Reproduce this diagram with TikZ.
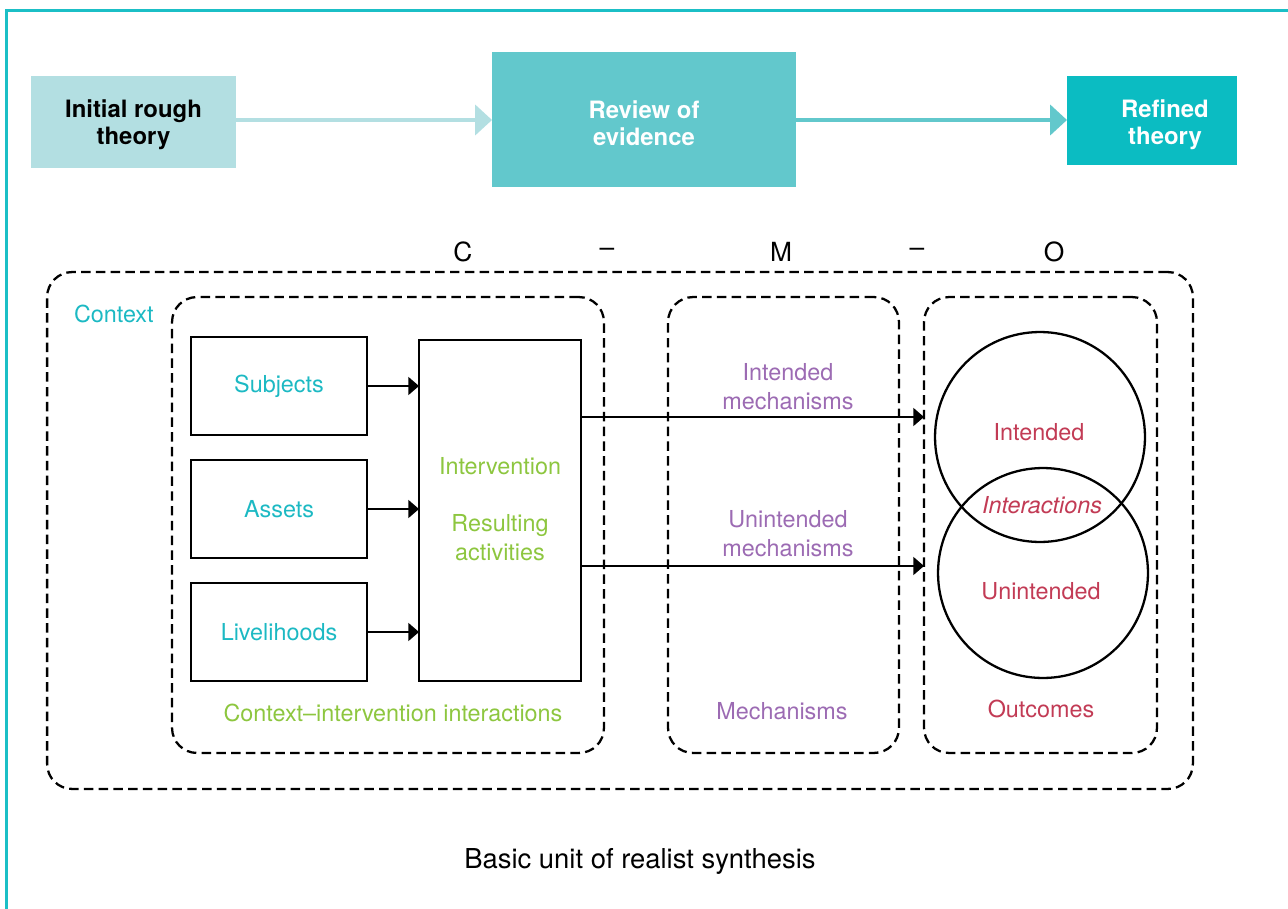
\documentclass[tikz,border=0pt]{standalone}
\usepackage{fontspec}
\setmainfont{TeX Gyre Heros}
\usetikzlibrary{arrows.meta}
\definecolor{frameteal}{HTML}{1BBFC6}
\definecolor{paleteal}{HTML}{B3DFE2}
\definecolor{midteal}{HTML}{62C8CC}
\definecolor{deepteal}{HTML}{0BBCC2}
\definecolor{tealtxt}{HTML}{1CB9C3}
\definecolor{greentxt}{HTML}{8DC63F}
\definecolor{purpletxt}{HTML}{9C6BB3}
\definecolor{redtxt}{HTML}{C23B55}
\begin{document}
\begin{tikzpicture}[x=0.02cm,y=-0.02cm,
  every node/.style={inner sep=0pt,outer sep=0pt},
  body/.style={font=\fontsize{13.3}{16.4}\selectfont,align=center},
  stagetext/.style={font=\fontsize{13.6}{15.5}\selectfont\bfseries,align=center},
  stagearrow/.style={line width=2.8pt,-{Triangle[length=9.6pt,width=17pt]}},
  solidbox/.style={draw,line width=1.3pt,body},
  dashbox/.style={draw,line width=1.3pt,dash pattern=on 5.4pt off 3pt,rounded corners=0.5cm},
  blackarrow/.style={line width=1.3pt,-{Triangle[length=6pt,width=10pt]}},
  ring/.style={draw,circle,line width=1.3pt,minimum size=4.2cm}
]
\useasboundingbox (0,0) rectangle (1288,909);

% frame
\draw[frameteal,line width=1.6pt] (6.3,909) -- (6.3,10.3) -- (1288,10.3);

% theory stages
\node[fill=paleteal,minimum width=4.1cm,minimum height=1.84cm] (initial) at (133.5,122) {};
\node[fill=midteal,minimum width=6.08cm,minimum height=2.7cm] (review) at (644,119.5) {};
\node[fill=deepteal,minimum width=3.4cm,minimum height=1.78cm] (refined) at (1152,120.5) {};
\node[stagetext,text=black] (initialtxt) at (133.5,125) {Initial rough\\theory};
\node[stagetext,text=white] (reviewtxt) at (644,123) {Review of\\evidence};
\node[stagetext,text=white] (refinedtxt) at (1165,124.5) {Refined\\theory};
\draw[stagearrow,paleteal] (initial.east |- 0,120) -- (review.west |- 0,120);
\draw[stagearrow,midteal] (review.east |- 0,120) -- (refined.west |- 0,120);

% C - M - O heading
\begin{scope}[every node/.style={font=\fontsize{15}{17}\selectfont}]
\node (hc) at (463,252) {C};
\node (hd1) at (607,252) {–};
\node (hm) at (781,252) {M};
\node (hd2) at (917,252) {–};
\node (ho) at (1054,252) {O};
\end{scope}

% dashed groupings
\node[dashbox,minimum width=22.92cm,minimum height=10.34cm] (context) at (620,530.5) {};
\node[dashbox,minimum width=8.64cm,minimum height=9.12cm] (cibox) at (388,525) {};
\node[dashbox,minimum width=4.62cm,minimum height=9.12cm] (mechbox) at (783.5,525) {};
\node[dashbox,minimum width=4.66cm,minimum height=9.12cm] (outbox) at (1040.5,525) {};
\node[body,text=tealtxt,anchor=west] (ctxlabel) at (74,314) {Context};

% context elements
\node[solidbox,text=tealtxt,minimum width=3.52cm,minimum height=1.96cm] (subj) at (279,386) {Subjects};
\node[solidbox,text=tealtxt,minimum width=3.52cm,minimum height=1.96cm] (assets) at (279,509) {Assets};
\node[solidbox,text=tealtxt,minimum width=3.52cm,minimum height=1.96cm] (liveli) at (279,632) {Livelihoods};
\node[solidbox,minimum width=3.24cm,minimum height=6.82cm] (interv) at (500,510.5) {};
\node[body,text=greentxt] (intervlbl) at (500,466) {Intervention};
\node[body,text=greentxt] (activlbl) at (500,538) {Resulting\\activities};
\node[body,text=greentxt] (cilabel) at (393,713) {Context–intervention interactions};

\draw[blackarrow] (subj.east) -- (subj.east -| interv.west);
\draw[blackarrow] (assets.east) -- (assets.east -| interv.west);
\draw[blackarrow] (liveli.east) -- (liveli.east -| interv.west);

% mechanisms
\coordinate (intsrc) at (interv.east |- 0,417);
\coordinate (unsrc) at (interv.east |- 0,566);
\draw[blackarrow] (intsrc) -- (intsrc -| outbox.west);
\draw[blackarrow] (unsrc) -- (unsrc -| outbox.west);
\node[body,text=purpletxt] (intmech) at (788,387) {Intended\\mechanisms};
\node[body,text=purpletxt] (unmech) at (788,534) {Unintended\\mechanisms};
\node[body,text=purpletxt] (mechlabel) at (782,711) {Mechanisms};

% outcomes
\node[ring] (intring) at (1040,437) {};
\node[ring] (unring) at (1043,573) {};
\node[body,text=redtxt] (intlbl) at (1039,432) {Intended};
\node[body,text=redtxt,font=\fontsize{13.3}{16}\selectfont\itshape] (interlbl) at (1042,505) {Interactions};
\node[body,text=redtxt] (unlbl) at (1041,591) {Unintended};
\node[body,text=redtxt] (outlabel) at (1041,709) {Outcomes};

% caption
\node[font=\fontsize{15.6}{18}\selectfont] (caption) at (640,861) {Basic unit of realist synthesis};
\end{tikzpicture}
\end{document}
